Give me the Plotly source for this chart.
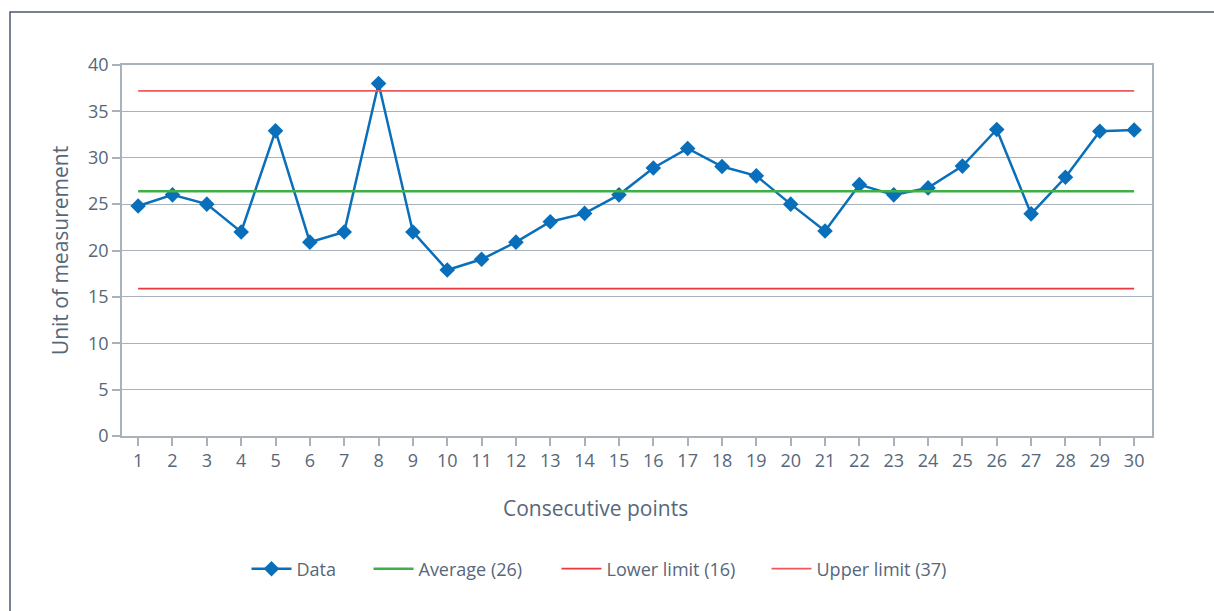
import plotly.graph_objects as go

points = list(range(1, 31))
data_values = [24.8, 26.0, 25.0, 22.0, 32.9, 20.9, 22.0, 38.0, 22.0, 17.9,
               19.05, 20.9, 23.1, 24.0, 26.0, 28.9, 31.0, 29.05, 28.05, 25.0,
               22.1, 27.1, 26.0, 26.75, 29.1, 33.05, 23.95, 27.9, 32.85, 33.0]
average_value = 26.4
lower_limit = 15.9
upper_limit = 37.2
y_ticks = [0, 5, 10, 15, 20, 25, 30, 35, 40]

FONT = "Open Sans"
TXT = "#56677a"
GRID = "#a9b2ba"
PLOT_L, PLOT_W = 122, 1030
PLOT_T, PLOT_H = 65, 371

def px_x(px):
    return (px - PLOT_L) / PLOT_W

def px_y(py):
    return (PLOT_T + PLOT_H - py) / PLOT_H

fig = go.Figure()
fig.add_trace(go.Scatter(
    x=points, y=data_values, name="Data", mode="lines+markers", legend="legend",
    line=dict(color="#0a6fba", width=2.5),
    marker=dict(symbol="diamond", size=12, color="#0a6fba")))
fig.add_trace(go.Scatter(
    x=points, y=[average_value] * len(points), name="Average (26)", mode="lines",
    legend="legend2", line=dict(color="#3fb048", width=2.5)))
fig.add_trace(go.Scatter(
    x=points, y=[lower_limit] * len(points), name="Lower limit (16)", mode="lines",
    legend="legend3", line=dict(color="#e8383d", width=1.8)))
fig.add_trace(go.Scatter(
    x=points, y=[upper_limit] * len(points), name="Upper limit (37)", mode="lines",
    legend="legend4", line=dict(color="#ee5a5a", width=1.8)))

def leg(px):
    return dict(orientation="h", x=px_x(px - 5.5), xanchor="left", y=px_y(569), yanchor="middle",
                font=dict(size=18, color=TXT, family=FONT), itemwidth=40,
                bgcolor="rgba(0,0,0,0)")

fig.update_layout(
    width=1214, height=611,
    margin=dict(l=PLOT_L, r=1214 - PLOT_L - PLOT_W, t=PLOT_T, b=611 - PLOT_T - PLOT_H,
                autoexpand=False),
    paper_bgcolor="white", plot_bgcolor="white",
    font=dict(family=FONT, color=TXT, size=18),
    showlegend=True,
    legend=leg(252), legend2=leg(374), legend3=leg(562), legend4=leg(772),
    xaxis=dict(
        range=[0.53, 30.52], tickmode="array", tickvals=points,
        ticktext=[str(p) for p in points],
        showgrid=False, zeroline=False,
        showline=True, linecolor=GRID, linewidth=1.5, mirror=True,
        ticks="outside", ticklen=8, tickcolor=GRID, tickwidth=1.5,
        tickfont=dict(size=18, color=TXT)),
    yaxis=dict(
        range=[0, 40], tickmode="array", tickvals=y_ticks,
        showgrid=True, gridcolor=GRID, gridwidth=1.2, zeroline=False,
        showline=True, linecolor=GRID, linewidth=1.5, mirror=True,
        ticks="outside", ticklen=8, tickcolor=GRID, tickwidth=1.5,
        tickfont=dict(size=18, color=TXT),
        title=dict(text="Unit of measurement", font=dict(size=21, color=TXT), standoff=14)),
    annotations=[dict(text="Consecutive points", xref="paper", yref="paper",
                      x=px_x(595), y=px_y(508), xanchor="center", yanchor="middle",
                      showarrow=False, font=dict(size=21, color=TXT, family=FONT))],
    shapes=[dict(type="rect", xref="paper", yref="paper",
                 x0=px_x(10), x1=px_x(1300), y0=px_y(700), y1=px_y(12),
                 line=dict(color="#4a5968", width=1.5), fillcolor="rgba(0,0,0,0)",
                 layer="below")],
)

fig.write_html("out.html", config={"displayModeBar": False},
               post_script="document.body.style.margin='0px';")
